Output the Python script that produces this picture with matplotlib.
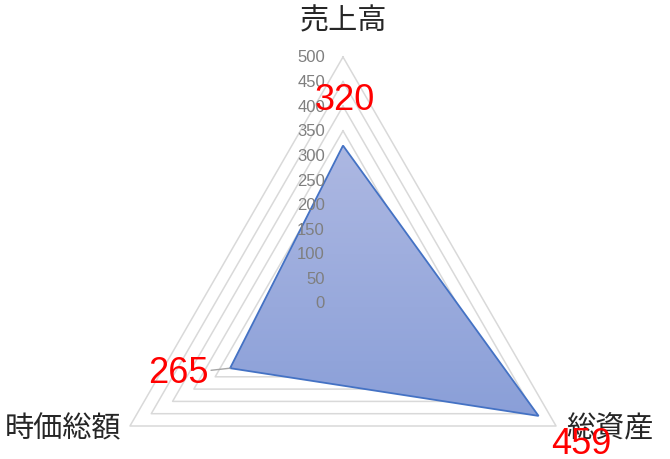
import numpy as np
import matplotlib
matplotlib.use('Agg')
import matplotlib.pyplot as plt
from matplotlib.patches import Polygon
from matplotlib.colors import LinearSegmentedColormap

plt.rcParams['font.family'] = ['Noto Sans CJK JP', 'DejaVu Sans']

# data
categories = ['売上高', '総資産', '時価総額']
values = [320, 459, 265]
ticks = [0, 50, 100, 150, 200, 250, 300, 350, 400, 450, 500]
rmax = 500

# angles: first axis straight up, then clockwise
angles = np.deg2rad([90, -30, 210])
cx, cy = np.cos(angles), np.sin(angles)

fig = plt.figure(figsize=(6.7, 4.6), dpi=100)
ax = fig.add_axes([0, 0, 1, 1])
# center at pixel (343, 304 from top), 500 units -> 246 px
s = 246 / rmax
ax.set_xlim(-343 / s, (670 - 343) / s)
ax.set_ylim(-(460 - 304) / s, 304 / s)
ax.axis('off')

# gridlines (triangles)
for t in ticks[1:]:
    gx = np.append(t * cx, t * cx[0])
    gy = np.append(t * cy, t * cy[0])
    ax.plot(gx, gy, color='#d9d9d9', lw=1.1, zorder=1)

# data polygon with vertical gradient
vals = np.array(values, dtype=float)
px, py = vals * cx, vals * cy
poly = Polygon(np.column_stack([px, py]), closed=True, facecolor='none',
               edgecolor='#4472c4', lw=1.3, zorder=4, joinstyle='miter')
ax.add_patch(poly)
cmap = LinearSegmentedColormap.from_list('g', ['#8a9fd8', '#adb8e2'])
grad = np.linspace(0, 1, 256).reshape(-1, 1)
im = ax.imshow(grad, cmap=cmap, origin='lower', aspect='auto',
               extent=[px.min(), px.max(), py.min(), py.max()], zorder=3)
clip = Polygon(np.column_stack([px, py]), closed=True, transform=ax.transData)
im.set_clip_path(clip)

# value axis tick labels
for t in ticks:
    ax.annotate(str(t), (0, t), xytext=(-13, 0), textcoords='offset points',
                ha='right', va='center', fontsize=12, color='#7f7f7f',
                family=['Liberation Sans', 'DejaVu Sans'], zorder=5)

# category labels
lab_off = [(0, 26), (39, -2), (-48, -2)]
for i, c in enumerate(categories):
    ax.annotate(c, (rmax * cx[i], rmax * cy[i]), xytext=lab_off[i],
                textcoords='offset points', ha='center', va='center',
                fontsize=21, color='#262626', zorder=6)

# data labels
dl_off = [(1.5, 33), (31, -20), (-37.5, -3)]
for i, v in enumerate(values):
    kw = {}
    if i == 2:
        kw['arrowprops'] = dict(arrowstyle='-', color='#a6a6a6', lw=1,
                                shrinkA=0, shrinkB=0, relpos=(1.0, 0.55))
    ax.annotate(str(v), (px[i], py[i]), xytext=dl_off[i],
                textcoords='offset points', ha='center', va='center',
                fontsize=26, color='#ff0000',
                family=['Liberation Sans', 'DejaVu Sans'], zorder=7, **kw)

fig.savefig('out.png', dpi=100)
